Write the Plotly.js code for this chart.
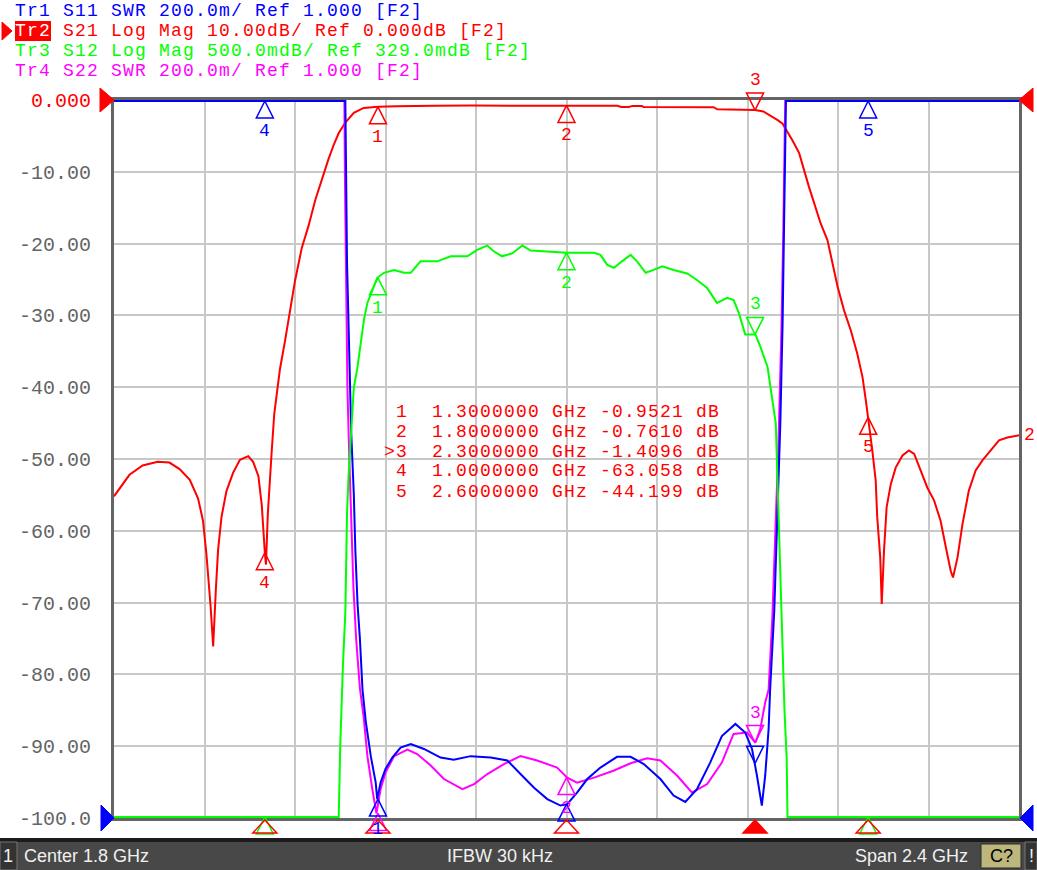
<!DOCTYPE html>
<html>
<head>
<meta charset="utf-8">
<script src="https://cdn.plot.ly/plotly-3.0.1.min.js"></script>
<style>
  html, body { margin: 0; padding: 0; background: #fff; overflow: hidden; }
</style>
</head>
<body>
<div id="chart" style="width:1037px;height:870px"></div>
<script>
let centerGHz = 1.8;
let spanGHz = 2.4;
let ifbw = '30 kHz';

// Tr2 S21 Log Mag, dB
let s21Freq = [
  0.600, 0.641, 0.676, 0.716, 0.747, 0.774, 0.801, 0.823, 0.836, 0.845,
  0.856, 0.863, 0.870, 0.876, 0.885, 0.898, 0.916, 0.934, 0.956, 0.969,
  0.983, 0.992, 1.000, 1.003, 1.008, 1.014, 1.018, 1.025, 1.032, 1.040,
  1.054, 1.067, 1.080, 1.098, 1.116, 1.134, 1.152, 1.169, 1.183, 1.196,
  1.214, 1.236, 1.262, 1.300, 1.350, 1.400, 1.450, 1.550, 1.650, 1.750,
  1.800, 1.900, 1.935, 1.945, 1.965, 1.975, 2.000, 2.005, 2.100, 2.190,
  2.200, 2.280, 2.300, 2.322, 2.342, 2.360, 2.373, 2.399, 2.417, 2.430,
  2.443, 2.457, 2.474, 2.492, 2.505, 2.519, 2.536, 2.554, 2.571, 2.585,
  2.594, 2.600, 2.611, 2.620, 2.624, 2.632, 2.636, 2.642, 2.649, 2.660,
  2.673, 2.691, 2.708, 2.722, 2.739, 2.757, 2.775, 2.792, 2.806, 2.819,
  2.825, 2.837, 2.850, 2.867, 2.885, 2.903, 2.925, 2.947, 2.969, 3.000
];
let s21Db = [
  -55.2, -52.2, -50.9, -50.4, -50.5, -51.4, -52.9, -55.5, -58.6, -63.2,
  -70.4, -76.1, -68.3, -62.7, -58.1, -54.5, -51.9, -50.1, -49.6, -50.4,
  -52.4, -56.5, -63.06, -64.7, -57.6, -51.9, -49.1, -43.7, -40.6, -37.5,
  -33.4, -29.3, -25.2, -20.6, -17.5, -13.9, -10.8, -8.2, -6.2, -4.6,
  -3.1, -1.8, -1.1, -0.95, -0.86, -0.78, -0.8, -0.78, -0.77, -0.76,
  -0.76, -0.78, -0.8, -0.98, -0.98, -0.82, -0.84, -0.98, -0.98, -1.0,
  -1.3, -1.35, -1.41, -1.6, -2.2, -2.8, -3.3, -5.6, -7.4, -9.8,
  -12.1, -14.4, -17.2, -19.5, -22.8, -26.0, -29.3, -32.1, -35.3, -38.6,
  -41.9, -44.2, -48.8, -53.0, -58.1, -63.7, -70.2, -62.8, -56.7, -53.5,
  -51.2, -49.5, -48.8, -49.3, -51.6, -54.0, -55.8, -58.6, -62.3, -65.6,
  -66.5, -63.7, -59.1, -54.4, -51.6, -50.2, -48.8, -47.4, -47.0, -46.7
];

// Tr3 S12 Log Mag, dB (0.5 dB/div, ref 0.329 dB at the top)
let s12Freq = [
  0.600, 1.196, 1.200, 1.204, 1.207, 1.2135, 1.218, 1.222, 1.229, 1.236,
  1.245, 1.252, 1.263, 1.272, 1.285, 1.298, 1.316, 1.343, 1.369, 1.387,
  1.413, 1.457, 1.493, 1.537, 1.563, 1.590, 1.607, 1.629, 1.656, 1.683,
  1.705, 1.749, 1.802, 1.873, 1.890, 1.908, 1.926, 1.947, 1.970, 1.987,
  2.010, 2.031, 2.054, 2.084, 2.120, 2.146, 2.173, 2.199, 2.226, 2.243,
  2.257, 2.274, 2.301, 2.314, 2.333, 2.346, 2.355, 2.359, 2.364, 2.370,
  2.378, 2.384, 2.386, 3.000
];
let s12Db = [
  -4.671, -4.671, -4.171, -3.771, -3.621, -3.241, -2.551, -2.291, -2.011, -1.676,
  -1.546, -1.421, -1.201, -1.086, -0.996, -0.911, -0.876, -0.856, -0.876, -0.876,
  -0.796, -0.796, -0.761, -0.761, -0.716, -0.686, -0.726, -0.761, -0.741, -0.686,
  -0.721, -0.726, -0.736, -0.736, -0.751, -0.821, -0.841, -0.796, -0.751, -0.796,
  -0.876, -0.856, -0.831, -0.856, -0.881, -0.926, -0.981, -1.086, -1.051, -1.066,
  -1.156, -1.306, -1.306, -1.391, -1.531, -1.766, -1.926, -2.276, -2.741, -3.181,
  -3.921, -4.271, -4.671, -4.671
];

// Tr1 S11 SWR (0.2/div, ref 1.000 at the bottom)
let s11Freq = [
  0.600, 1.2135, 1.218, 1.2226, 1.229, 1.236, 1.240, 1.246, 1.252, 1.259,
  1.268, 1.281, 1.294, 1.298, 1.307, 1.320, 1.338, 1.360, 1.387, 1.422,
  1.466, 1.501, 1.546, 1.599, 1.643, 1.678, 1.714, 1.749, 1.784, 1.802,
  1.828, 1.855, 1.890, 1.934, 1.970, 2.005, 2.049, 2.084, 2.115, 2.146,
  2.181, 2.212, 2.248, 2.274, 2.292, 2.305, 2.318, 2.327, 2.336, 2.340,
  2.351, 2.367, 2.373, 2.377, 2.382, 3.000
];
let s11Swr = [
  3.0, 3.0, 2.548, 2.312, 2.076, 1.90, 1.746, 1.592, 1.50, 1.356,
  1.264, 1.17, 1.096, 1.05, 1.096, 1.134, 1.166, 1.194, 1.204, 1.19,
  1.166, 1.16, 1.17, 1.166, 1.158, 1.12, 1.082, 1.05, 1.032, 1.036,
  1.068, 1.106, 1.138, 1.168, 1.168, 1.148, 1.106, 1.06, 1.042, 1.078,
  1.152, 1.226, 1.26, 1.236, 1.19, 1.116, 1.032, 1.116, 1.246, 1.356,
  1.576, 2.098, 2.376, 2.656, 3.0, 3.0
];

// Tr4 S22 SWR
let s22Freq = [
  0.600, 1.211, 1.2125, 1.215, 1.219, 1.224, 1.229, 1.235, 1.242, 1.252,
  1.262, 1.272, 1.285, 1.296, 1.307, 1.320, 1.343, 1.378, 1.404, 1.440,
  1.475, 1.524, 1.555, 1.590, 1.634, 1.678, 1.722, 1.775, 1.802, 1.828,
  1.873, 1.926, 1.970, 2.014, 2.049, 2.093, 2.133, 2.173, 2.212, 2.243,
  2.279, 2.301, 2.314, 2.327, 2.336, 2.346, 2.362, 2.370, 2.375, 2.380,
  3.000
];
let s22Swr = [
  3.0, 3.0, 2.78, 2.5, 2.2, 2.0, 1.8, 1.64, 1.5, 1.36,
  1.28, 1.17, 1.078, 1.01, 1.078, 1.124, 1.17, 1.188, 1.176, 1.144,
  1.106, 1.078, 1.092, 1.12, 1.148, 1.17, 1.158, 1.138, 1.11, 1.096,
  1.11, 1.13, 1.15, 1.164, 1.158, 1.116, 1.068, 1.092, 1.152, 1.232,
  1.236, 1.208, 1.246, 1.32, 1.356, 1.56, 2.04, 2.36, 2.64, 3.0,
  3.0
];

// markers
let mkNum = [1, 2, 3, 4, 5];
let mkFreq = [1.3, 1.8, 2.3, 1.0, 2.6];
let mkS21 = [-0.9521, -0.7610, -1.4096, -63.058, -44.199];
let mkS12 = [-0.911, -0.736, -1.306, -4.671, -4.671];
let mkS11 = [1.05, 1.036, 1.15, 3.0, 3.0];
let mkS22 = [1.01, 1.11, 1.208];
let activeMk = 3;

let yTickVals = [0, -10, -20, -30, -40, -50, -60, -70, -80, -90, -100];
let yTickText = ['0.000', '-10.00', '-20.00', '-30.00', '-40.00', '-50.00',
  '-60.00', '-70.00', '-80.00', '-90.00', '-100.0'];

let hdrTr = ['Tr1', 'Tr2', 'Tr3', 'Tr4'];
let hdrText = [
  'S11 SWR 200.0m/ Ref 1.000 [F2]',
  'S21 Log Mag 10.00dB/ Ref 0.000dB [F2]',
  'S12 Log Mag 500.0mdB/ Ref 329.0mdB [F2]',
  'S22 SWR 200.0m/ Ref 1.000 [F2]'
];

let RED = '#ff0000', GREEN = '#00ff00', BLUE = '#0000ff', MAG = '#ff00ff';
let GRAY = '#646464', GRID = '#c8c8c8';
let MONO = 'Liberation Mono, DejaVu Sans Mono, monospace';
let SANS = 'Liberation Sans, Arial, sans-serif';
let hdrColors = [BLUE, RED, GREEN, MAG];

let ML = 114, MT = 100, PW = 905, PH = 718;
function px(x) { return (x - ML) / PW; }
function py(y) { return (MT + PH - y) / PH; }

// 18px mono stretched to the 12px cell of the analyzer font
function cell(t) {
  return '<span style="letter-spacing:1.2px">' + t.replace(/ /g, '\u00a0') + '</span>';
}

// scale ranges, one pixel of slack so traces sitting on the frame stay visible
let xRange = [centerGHz - spanGHz / 2, centerGHz + spanGHz / 2];
let dbRange = [0 - 10 * 10, 0];
let swrRange = [1.0 - 0.2 * 10 / PH, 1.0 + 0.2 * 10 + 0.2 * 10 / PH];
let s12Range = [0.329 - 0.5 * 10 - 0.5 * 10 / PH, 0.329];

function line(x, y, yaxis, color) {
  return {x: x, y: y, yaxis: yaxis, type: 'scatter', mode: 'lines',
    line: {color: color, width: 2}, hoverinfo: 'skip'};
}

function mkTrace(vals, yaxis, color) {
  let n = vals.length;
  return {
    x: mkFreq.slice(0, n), y: vals, yaxis: yaxis, type: 'scatter', mode: 'markers',
    cliponaxis: false, hoverinfo: 'skip',
    marker: {
      symbol: mkNum.slice(0, n).map(k => k === activeMk ? 'arrow-down-open' : 'arrow-up-open'),
      size: 17, color: color, line: {color: color, width: 1.5}
    }
  };
}

let annotations = [];
let shapes = [];

function mkLabels(vals, yref, color, range, hidden) {
  vals.forEach(function(v, i) {
    let up = mkNum[i] === activeMk;
    let fromBottom = (v - range[0]) / (range[1] - range[0]) * PH;
    if((!up && fromBottom < 14) || (hidden && hidden.indexOf(mkNum[i]) >= 0)) {
      return;
    }
    annotations.push({
      x: mkFreq[i], y: v, xref: 'x', yref: yref, text: String(mkNum[i]),
      showarrow: false, xanchor: 'center', yanchor: 'middle', yshift: up ? 30 : -30,
      font: {family: MONO, size: 18, color: color}
    });
  });
}

mkLabels(mkS11, 'y2', BLUE, swrRange, [3]);
mkLabels(mkS21, 'y', RED, dbRange);
mkLabels(mkS12, 'y3', GREEN, s12Range);
mkLabels(mkS22, 'y2', MAG, swrRange);

// stimulus markers under the frame
mkFreq.forEach(function(f, i) {
  let act = mkNum[i] === activeMk;
  shapes.push({
    type: 'path', xref: 'x', yref: 'paper', xsizemode: 'pixel', ysizemode: 'pixel',
    xanchor: f, yanchor: 0, path: 'M0,-2 L-12,-15 L12,-15 Z',
    line: {color: RED, width: 1.5}, fillcolor: act ? RED : 'rgba(0,0,0,0)', layer: 'above'
  });
});

// reference level arrows at both sides
function tri(path, color) {
  shapes.push({type: 'path', xref: 'paper', yref: 'paper', path: path,
    fillcolor: color, line: {color: color, width: 1}, layer: 'above'});
}
function pth(pts) {
  return 'M' + pts.map(p => px(p[0]) + ',' + py(p[1])).join(' L') + ' Z';
}
tri(pth([[100, 88], [114, 100], [100, 112]]), RED);
tri(pth([[101, 805], [114, 818], [101, 831]]), BLUE);
tri(pth([[1033, 88], [1019, 100], [1033, 112]]), RED);
tri(pth([[1033, 805], [1020, 818], [1033, 831]]), BLUE);
tri(pth([[2, 22], [12, 31], [2, 40]]), RED);

// header lines
hdrTr.forEach(function(t, i) {
  let yc = py(11 + 20 * i);
  let active = i === 1;
  annotations.push({
    xref: 'paper', yref: 'paper', x: px(15), y: yc, xanchor: 'left', yanchor: 'middle',
    text: cell(t), showarrow: false, borderpad: 0, borderwidth: 0,
    bgcolor: active ? RED : 'rgba(0,0,0,0)',
    font: {family: MONO, size: 18, color: active ? '#ffffff' : hdrColors[i]}
  });
  annotations.push({
    xref: 'paper', yref: 'paper', x: px(15 + 4 * 12), y: yc, xanchor: 'left', yanchor: 'middle',
    text: cell(hdrText[i]), showarrow: false, borderpad: 0, borderwidth: 0,
    font: {family: MONO, size: 18, color: hdrColors[i]}
  });
});

// marker table
mkFreq.forEach(function(f, i) {
  let v = mkS21[i];
  let vs = Math.abs(v) < 10 ? v.toFixed(4) : v.toFixed(3);
  let row = (mkNum[i] === activeMk ? '>' : ' ') + mkNum[i] + '  ' + f.toFixed(7) + ' GHz ' + vs + ' dB';
  annotations.push({
    xref: 'paper', yref: 'paper', x: px(384), y: py(411.5 + 20 * i), xanchor: 'left', yanchor: 'middle',
    text: cell(row), showarrow: false, borderpad: 0, borderwidth: 0,
    font: {family: MONO, size: 18, color: RED}
  });
});

// trace number at the end of Tr2
annotations.push({
  xref: 'paper', yref: 'y', x: 1, y: s21Db[s21Db.length - 1], xanchor: 'left', yanchor: 'middle',
  xshift: 3, text: '2', showarrow: false, font: {family: MONO, size: 18, color: RED}
});

// status bar
function box(x0, y0, x1, y1, fill, lc) {
  shapes.push({type: 'rect', xref: 'paper', yref: 'paper', x0: px(x0), x1: px(x1), y0: py(y1), y1: py(y0),
    fillcolor: fill, line: {color: lc || fill, width: lc ? 1 : 0}, layer: 'above'});
}
box(0, 838, 1037, 870, '#1c1c1c');
box(0, 842, 1037, 870, '#484848');
box(0, 842, 17, 870, '#333333', '#777777');
box(981, 844, 1021, 868, '#bdb77d', '#2a2a2a');
box(1025, 842, 1037, 870, '#333333', '#777777');

function stText(x, t, anchor, color) {
  annotations.push({xref: 'paper', yref: 'paper', x: px(x), y: py(856), xanchor: anchor, yanchor: 'middle',
    text: t, showarrow: false, borderpad: 0, font: {family: SANS, size: 18, color: color || '#f0f0f0'}});
}
stText(8, '1', 'center');
stText(23, 'Center ' + centerGHz + ' GHz', 'left');
stText(446, 'IFBW ' + ifbw, 'left');
stText(969, 'Span ' + spanGHz + ' GHz', 'right');
stText(1001, 'C?', 'center', '#000000');
stText(1031, '!', 'center');

let xTicks = [];
for(let k = 0; k <= 10; k++) {
  xTicks.push(xRange[0] + k * spanGHz / 10);
}

let traces = [
  line(s22Freq, s22Swr, 'y2', MAG),
  line(s11Freq, s11Swr, 'y2', BLUE),
  line(s21Freq, s21Db, 'y', RED),
  line(s12Freq, s12Db, 'y3', GREEN),
  mkTrace(mkS22, 'y2', MAG),
  mkTrace(mkS12, 'y3', GREEN),
  mkTrace(mkS21, 'y', RED),
  mkTrace(mkS11, 'y2', BLUE)
];

let layout = {
  width: 1037,
  height: 870,
  margin: {l: ML, r: 1037 - ML - PW, t: MT, b: 870 - MT - PH},
  paper_bgcolor: '#ffffff',
  plot_bgcolor: '#ffffff',
  showlegend: false,
  hovermode: false,
  xaxis: {
    range: xRange, tickvals: xTicks, showticklabels: false, ticks: '',
    showgrid: true, gridcolor: GRID, gridwidth: 2, zeroline: false,
    showline: true, linecolor: GRAY, linewidth: 3, mirror: true, layer: 'below traces'
  },
  yaxis: {
    range: dbRange, tickvals: yTickVals,
    ticktext: yTickText.map((t, i) => i === 0 ? '<span style="color:' + RED + '">' + t + '</span>' : t),
    ticks: '', ticklabelstandoff: 16,
    tickfont: {family: MONO, size: 20, color: GRAY},
    showgrid: true, gridcolor: GRID, gridwidth: 2, zeroline: false,
    showline: true, linecolor: GRAY, linewidth: 3, mirror: true, layer: 'below traces'
  },
  yaxis2: {range: swrRange, overlaying: 'y', visible: false, showgrid: false, zeroline: false},
  yaxis3: {range: s12Range, overlaying: 'y', visible: false, showgrid: false, zeroline: false},
  shapes: shapes,
  annotations: annotations
};

Plotly.newPlot('chart', traces, layout, {displayModeBar: false, staticPlot: true});
</script>
</body>
</html>
